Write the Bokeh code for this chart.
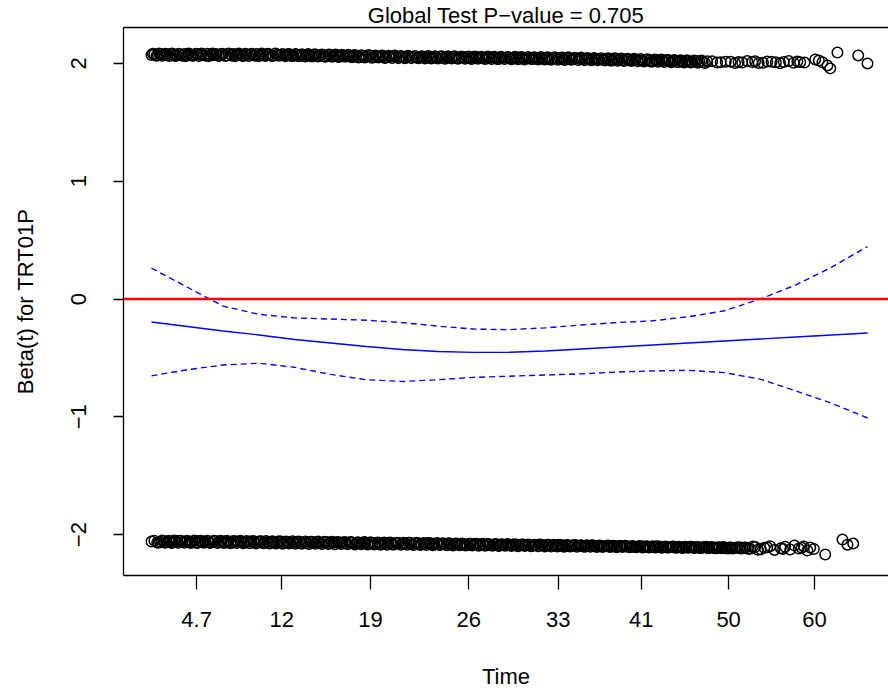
from bokeh.plotting import figure
from bokeh.models import Range1d, LinearAxis, FixedTicker, Span
from bokeh.embed import file_html
from bokeh.resources import INLINE

# ---------------- data (x in transformed-time units 0..100) ----------------
title_text = "Global Test P\u2212value = 0.705"
x_label = "Time"
y_label = "Beta(t) for TRT01P"

tick_pos = [6.3, 18.2, 30.6, 44.3, 56.8, 68.4, 80.6, 92.6]
tick_lab = ["4.7", "12", "19", "26", "33", "41", "50", "60"]
y_ticks = [-2, -1, 0, 1, 2]
y_tick_lab = ["\u22122", "\u22121", "0", "1", "2"]

upper_t = [
    0.0, 0.4, 0.9, 1.3, 1.8, 2.2, 2.7, 3.1, 3.5, 4.0,
    4.6, 5.0, 5.5, 5.9, 6.4, 6.8, 7.3, 7.8, 8.2, 8.7,
    9.1, 9.6, 10.0, 10.5, 11.1, 11.5, 12.0, 12.4, 12.9, 13.3,
    13.8, 14.3, 14.7, 15.2, 15.6, 16.1, 16.5, 17.0, 17.6, 18.0,
    18.5, 18.9, 19.4, 19.8, 20.3, 20.8, 21.2, 21.7, 22.1, 22.6,
    23.0, 23.5, 24.1, 24.5, 25.0, 25.4, 25.9, 26.3, 26.8, 27.3,
    27.7, 28.2, 28.6, 29.1, 29.5, 30.0, 30.6, 31.0, 31.5, 31.9,
    32.4, 32.8, 33.3, 33.8, 34.2, 34.7, 35.1, 35.6, 36.0, 36.5,
    37.1, 37.5, 38.0, 38.4, 38.9, 39.3, 39.8, 40.3, 40.7, 41.2,
    41.6, 42.1, 42.5, 43.0, 43.6, 44.0, 44.5, 44.9, 45.4, 45.8,
    46.3, 46.8, 47.2, 47.7, 48.1, 48.6, 49.0, 49.5, 50.1, 50.5,
    51.0, 51.4, 51.9, 52.3, 52.8, 53.3, 53.7, 54.2, 54.6, 55.1,
    55.5, 56.0, 56.6, 57.0, 57.5, 57.9, 58.4, 58.8, 59.3, 59.8,
    60.2, 60.7, 61.1, 61.6, 62.0, 62.5, 63.1, 63.5, 64.0, 64.4,
    64.9, 65.3, 65.8, 66.3, 66.7, 67.2, 67.6, 68.1, 68.5, 69.0,
    69.6, 70.0, 70.5, 70.9, 71.4, 71.8, 72.3, 72.8, 73.2, 73.7,
    74.1, 74.6, 75.0, 75.5, 76.1, 76.5, 77.0, 77.6, 79.5, 80.9,
    82.5, 83.2, 83.9, 84.8, 86.0, 87.2, 88.3, 89.0, 89.7, 90.6,
    92.7, 93.2, 93.7, 94.4, 94.8, 95.8, 98.7, 100.0,
]
upper_beta = [
    2.072, 2.078, 2.069, 2.081, 2.074, 2.070, 2.079, 2.073, 2.068, 2.077,
    2.080, 2.071, 2.076, 2.067, 2.079, 2.074, 2.070, 2.082, 2.073, 2.069,
    2.077, 2.072, 2.080, 2.068, 2.075, 2.079, 2.071, 2.076, 2.066, 2.078,
    2.073, 2.069, 2.079, 2.074, 2.070, 2.077, 2.072, 2.066, 2.075, 2.071,
    2.068, 2.076, 2.072, 2.065, 2.074, 2.069, 2.063, 2.071, 2.067, 2.072,
    2.064, 2.069, 2.061, 2.067, 2.071, 2.062, 2.066, 2.059, 2.068, 2.063,
    2.058, 2.066, 2.061, 2.055, 2.064, 2.059, 2.063, 2.054, 2.060, 2.057,
    2.062, 2.053, 2.058, 2.061, 2.052, 2.059, 2.055, 2.050, 2.058, 2.054,
    2.049, 2.057, 2.052, 2.056, 2.048, 2.054, 2.051, 2.057, 2.047, 2.053,
    2.050, 2.055, 2.046, 2.052, 2.049, 2.054, 2.045, 2.051, 2.048, 2.053,
    2.044, 2.050, 2.047, 2.052, 2.043, 2.049, 2.046, 2.051, 2.042, 2.048,
    2.045, 2.050, 2.041, 2.047, 2.044, 2.049, 2.040, 2.046, 2.043, 2.048,
    2.039, 2.045, 2.042, 2.047, 2.038, 2.044, 2.041, 2.036, 2.043, 2.039,
    2.035, 2.042, 2.038, 2.033, 2.040, 2.036, 2.031, 2.039, 2.034, 2.030,
    2.037, 2.032, 2.028, 2.035, 2.030, 2.026, 2.033, 2.028, 2.024, 2.031,
    2.026, 2.022, 2.029, 2.024, 2.020, 2.027, 2.022, 2.018, 2.025, 2.020,
    2.016, 2.023, 2.018, 2.014, 2.021, 2.016, 2.012, 2.019, 2.010, 2.015,
    2.008, 2.020, 2.012, 2.004, 2.017, 2.009, 2.013, 2.021, 2.006, 2.011,
    2.034, 2.025, 2.010, 1.983, 1.958, 2.093, 2.068, 2.000,
]

upper_t2 = [
    0.2, 0.7, 1.1, 1.5, 2.0, 2.5, 2.9, 3.3, 3.8, 4.3,
    4.8, 5.2, 5.7, 6.2, 6.6, 7.0, 7.6, 8.0, 8.5, 8.9,
    9.4, 9.8, 10.3, 10.8, 11.3, 11.7, 12.2, 12.7, 13.1, 13.6,
    14.0, 14.5, 15.0, 15.4, 15.9, 16.3, 16.8, 17.3, 17.8, 18.3,
    18.7, 19.2, 19.6, 20.1, 20.5, 21.0, 21.5, 21.9, 22.4, 22.8,
    23.3, 23.8, 24.3, 24.8, 25.2, 25.7, 26.1, 26.6, 27.0, 27.5,
    28.0, 28.4, 28.9, 29.3, 29.8, 30.3, 30.8, 31.3, 31.7, 32.2,
    32.6, 33.1, 33.6, 34.0, 34.5, 34.9, 35.4, 35.8, 36.3, 36.8,
    37.3, 37.8, 38.2, 38.7, 39.1, 39.6, 40.0, 40.5, 41.0, 41.4,
    41.9, 42.3, 42.8, 43.3, 43.8, 44.3, 44.7, 45.2, 45.6, 46.1,
    46.6, 47.0, 47.5, 47.9, 48.4, 48.8, 49.3, 49.8, 50.3, 50.8,
    51.2, 51.7, 52.1, 52.6, 53.1, 53.5, 54.0, 54.4, 54.9, 55.3,
    55.8, 56.3, 56.8, 57.3, 57.7, 58.2, 58.6, 59.1, 59.6, 60.0,
    60.5, 60.9, 61.4, 61.8, 62.3, 62.8, 63.3, 63.8, 64.2, 64.7,
    65.1, 65.6, 66.0, 66.5, 67.0, 67.4, 67.9, 68.3, 68.8, 69.3,
    69.8, 70.3, 70.7, 71.2, 71.6, 72.1, 72.6, 73.0, 73.5, 73.9,
    74.4, 74.8, 75.3, 75.8, 76.3, 76.8, 77.3,
    78.3, 79.0, 80.2, 81.5, 82.0, 84.3, 85.4, 86.6, 87.8, 90.2, 91.2,
]
upper_beta2 = [
    2.083, 2.066, 2.084, 2.065, 2.082, 2.063, 2.085, 2.064, 2.083, 2.066,
    2.062, 2.084, 2.065, 2.083, 2.063, 2.085, 2.066, 2.062, 2.084, 2.081,
    2.064, 2.083, 2.063, 2.084, 2.066, 2.062, 2.085, 2.064, 2.082, 2.063,
    2.083, 2.065, 2.062, 2.084, 2.064, 2.082, 2.063, 2.084, 2.065, 2.081,
    2.062, 2.080, 2.061, 2.079, 2.060, 2.078, 2.059, 2.079, 2.058, 2.077,
    2.058, 2.076, 2.057, 2.075, 2.056, 2.076, 2.055, 2.074, 2.056, 2.073,
    2.052, 2.072, 2.051, 2.070, 2.050, 2.071, 2.049, 2.068, 2.050, 2.067,
    2.047, 2.066, 2.046, 2.067, 2.045, 2.064, 2.044, 2.065, 2.045, 2.063,
    2.043, 2.062, 2.042, 2.063, 2.041, 2.061, 2.042, 2.060, 2.040, 2.061,
    2.041, 2.060, 2.039, 2.059, 2.040, 2.058, 2.038, 2.059, 2.039, 2.057,
    2.037, 2.058, 2.038, 2.056, 2.036, 2.057, 2.037, 2.055, 2.035, 2.056,
    2.036, 2.054, 2.034, 2.055, 2.035, 2.053, 2.033, 2.054, 2.034, 2.052,
    2.032, 2.053, 2.031, 2.051, 2.030, 2.052, 2.031, 2.049, 2.029, 2.050,
    2.028, 2.047, 2.027, 2.046, 2.026, 2.045, 2.024, 2.044, 2.023, 2.043,
    2.022, 2.041, 2.021, 2.040, 2.020, 2.039, 2.018, 2.037, 2.017, 2.036,
    2.015, 2.034, 2.014, 2.033, 2.012, 2.031, 2.011, 2.030, 2.010, 2.028,
    2.008, 2.027, 2.007, 2.025, 2.006, 2.024, 2.004,
    2.018, 2.008, 2.015, 2.003, 2.012, 2.019, 2.006, 2.014, 2.001, 2.016, 2.007,
]

lower_t = [
    0.0, 0.8, 1.2, 1.7, 2.1, 2.6, 3.0, 3.4, 3.9, 4.3,
    4.8, 5.3, 5.7, 6.2, 6.6, 7.1, 7.5, 8.0, 8.5, 8.9,
    9.4, 9.8, 10.3, 10.7, 11.2, 11.7, 12.1, 12.6, 13.0, 13.5,
    13.9, 14.4, 14.9, 15.3, 15.8, 16.2, 16.7, 17.1, 17.6, 18.1,
    18.5, 19.0, 19.4, 19.9, 20.3, 20.8, 21.3, 21.7, 22.2, 22.6,
    23.1, 23.5, 24.0, 24.5, 24.9, 25.4, 25.8, 26.3, 26.7, 27.2,
    27.7, 28.1, 28.6, 29.0, 29.5, 29.9, 30.4, 30.9, 31.3, 31.8,
    32.2, 32.7, 33.1, 33.6, 34.1, 34.5, 35.0, 35.4, 35.9, 36.3,
    36.8, 37.3, 37.7, 38.2, 38.6, 39.1, 39.5, 40.0, 40.5, 40.9,
    41.4, 41.8, 42.3, 42.7, 43.2, 43.7, 44.1, 44.6, 45.0, 45.5,
    45.9, 46.4, 46.9, 47.3, 47.8, 48.2, 48.7, 49.1, 49.6, 50.1,
    50.5, 51.0, 51.4, 51.9, 52.3, 52.8, 53.3, 53.7, 54.2, 54.6,
    55.1, 55.5, 56.0, 56.5, 56.9, 57.4, 57.8, 58.3, 58.7, 59.2,
    59.7, 60.1, 60.6, 61.0, 61.5, 61.9, 62.4, 62.9, 63.3, 63.8,
    64.2, 64.7, 65.1, 65.6, 66.1, 66.5, 67.0, 67.4, 67.9, 68.3,
    68.8, 69.3, 69.7, 70.2, 70.6, 71.1, 71.5, 72.0, 72.5, 72.9,
    73.4, 73.8, 74.3, 74.7, 75.2, 75.7, 76.1, 76.6, 77.0, 77.5,
    77.9, 78.4, 78.9, 79.3, 79.8, 80.2, 80.7, 81.1, 81.6, 82.1,
    82.5, 83.0, 83.6, 84.3, 85.1, 85.6, 86.4, 87.0, 87.9, 88.5,
    89.2, 89.8, 90.4, 91.1, 91.6, 92.0, 92.5, 94.1, 96.5, 97.2,
    98.0,
]
lower_beta = [
    -2.058, -2.066, -2.060, -2.054, -2.063, -2.057, -2.065, -2.059, -2.053, -2.062,
    -2.056, -2.064, -2.059, -2.067, -2.055, -2.061, -2.058, -2.066, -2.060, -2.054,
    -2.063, -2.057, -2.065, -2.060, -2.068, -2.056, -2.062, -2.059, -2.067, -2.061,
    -2.058, -2.066, -2.062, -2.057, -2.069, -2.063, -2.060, -2.068, -2.064, -2.059,
    -2.067, -2.062, -2.070, -2.065, -2.060, -2.068, -2.064, -2.072, -2.061, -2.067,
    -2.063, -2.071, -2.066, -2.062, -2.073, -2.068, -2.064, -2.072, -2.067, -2.075,
    -2.065, -2.070, -2.076, -2.068, -2.073, -2.066, -2.078, -2.071, -2.075, -2.069,
    -2.077, -2.072, -2.068, -2.080, -2.074, -2.071, -2.079, -2.075, -2.070, -2.082,
    -2.076, -2.073, -2.081, -2.077, -2.072, -2.084, -2.078, -2.074, -2.083, -2.079,
    -2.075, -2.086, -2.080, -2.077, -2.085, -2.081, -2.088, -2.078, -2.084, -2.080,
    -2.087, -2.083, -2.079, -2.089, -2.085, -2.082, -2.091, -2.086, -2.081, -2.088,
    -2.084, -2.092, -2.087, -2.083, -2.090, -2.086, -2.094, -2.088, -2.084, -2.093,
    -2.089, -2.085, -2.096, -2.091, -2.087, -2.095, -2.090, -2.098, -2.092, -2.088,
    -2.097, -2.093, -2.100, -2.095, -2.091, -2.099, -2.094, -2.102, -2.096, -2.092,
    -2.101, -2.097, -2.104, -2.099, -2.095, -2.103, -2.098, -2.106, -2.100, -2.096,
    -2.105, -2.101, -2.108, -2.103, -2.099, -2.107, -2.102, -2.110, -2.104, -2.100,
    -2.109, -2.105, -2.112, -2.107, -2.103, -2.111, -2.106, -2.114, -2.108, -2.104,
    -2.113, -2.108, -2.116, -2.110, -2.106, -2.115, -2.109, -2.118, -2.111, -2.107,
    -2.116, -2.110, -2.119, -2.105, -2.125, -2.112, -2.098, -2.130, -2.115, -2.103,
    -2.127, -2.092, -2.118, -2.100, -2.135, -2.110, -2.122, -2.169, -2.042, -2.085,
    -2.076,
]

lower_t2 = [
    0.4, 1.0, 1.5, 1.9, 2.4, 2.8, 3.2, 3.7, 4.1, 4.6,
    5.0, 5.5, 6.0, 6.4, 6.9, 7.3, 7.8, 8.2, 8.7, 9.2,
    9.6, 10.1, 10.5, 11.0, 11.4, 11.9, 12.4, 12.8, 13.3, 13.7,
    14.2, 14.6, 15.1, 15.6, 16.0, 16.5, 16.9, 17.4, 17.8, 18.3,
    18.8, 19.2, 19.7, 20.1, 20.6, 21.0, 21.5, 22.0, 22.4, 22.9,
    23.3, 23.8, 24.2, 24.7, 25.2, 25.6, 26.1, 26.5, 27.0, 27.4,
    27.9, 28.4, 28.8, 29.3, 29.7, 30.2, 30.6, 31.1, 31.6, 32.0,
    32.5, 32.9, 33.4, 33.8, 34.3, 34.8, 35.2, 35.7, 36.1, 36.6,
    37.0, 37.5, 38.0, 38.4, 38.9, 39.3, 39.8, 40.2, 40.7, 41.2,
    41.6, 42.1, 42.5, 43.0, 43.4, 43.9, 44.4, 44.8, 45.3, 45.7,
    46.2, 46.6, 47.1, 47.6, 48.0, 48.5, 48.9, 49.4, 49.8, 50.3,
    50.8, 51.2, 51.7, 52.1, 52.6, 53.0, 53.5, 54.0, 54.4, 54.9,
    55.3, 55.8, 56.2, 56.7, 57.2, 57.6, 58.1, 58.5, 59.0, 59.4,
    59.9, 60.4, 60.8, 61.3, 61.7, 62.2, 62.6, 63.1, 63.6, 64.0,
    64.5, 64.9, 65.4, 65.8, 66.3, 66.8, 67.2, 67.7, 68.1, 68.6,
    69.0, 69.5, 70.0, 70.4, 70.9, 71.3, 71.8, 72.2, 72.7, 73.2,
    73.6, 74.1, 74.5, 75.0, 75.4, 75.9, 76.4, 76.8, 77.3, 77.7,
    78.2, 78.6, 79.1, 79.6, 80.0, 80.5, 80.9, 81.4, 81.8, 82.3,
    82.8, 83.3,
    84.0, 84.7, 86.0, 88.2, 90.8,
]
lower_beta2 = [
    -2.051, -2.070, -2.050, -2.069, -2.052, -2.071, -2.050, -2.070, -2.051, -2.069,
    -2.052, -2.071, -2.050, -2.072, -2.053, -2.070, -2.051, -2.071, -2.052, -2.072,
    -2.053, -2.072, -2.052, -2.073, -2.054, -2.071, -2.053, -2.074, -2.055, -2.073,
    -2.054, -2.075, -2.056, -2.074, -2.055, -2.076, -2.057, -2.075, -2.056, -2.077,
    -2.058, -2.076, -2.057, -2.078, -2.059, -2.077, -2.058, -2.079, -2.060, -2.078,
    -2.059, -2.080, -2.061, -2.079, -2.060, -2.081, -2.062, -2.080, -2.063, -2.082,
    -2.062, -2.083, -2.064, -2.082, -2.063, -2.084, -2.065, -2.083, -2.066, -2.085,
    -2.066, -2.086, -2.067, -2.085, -2.068, -2.087, -2.069, -2.086, -2.070, -2.088,
    -2.070, -2.089, -2.071, -2.088, -2.072, -2.090, -2.073, -2.089, -2.074, -2.091,
    -2.074, -2.092, -2.075, -2.091, -2.076, -2.093, -2.077, -2.092, -2.078, -2.094,
    -2.078, -2.095, -2.079, -2.094, -2.080, -2.096, -2.081, -2.095, -2.082, -2.097,
    -2.082, -2.098, -2.083, -2.097, -2.084, -2.099, -2.085, -2.098, -2.086, -2.100,
    -2.086, -2.101, -2.087, -2.100, -2.088, -2.102, -2.089, -2.101, -2.090, -2.103,
    -2.090, -2.104, -2.091, -2.103, -2.092, -2.105, -2.093, -2.104, -2.094, -2.106,
    -2.094, -2.107, -2.095, -2.106, -2.096, -2.108, -2.097, -2.107, -2.098, -2.109,
    -2.098, -2.110, -2.099, -2.109, -2.100, -2.111, -2.101, -2.110, -2.102, -2.112,
    -2.102, -2.113, -2.103, -2.112, -2.104, -2.114, -2.105, -2.113, -2.106, -2.115,
    -2.106, -2.116, -2.107, -2.115, -2.108, -2.117, -2.109, -2.116, -2.110, -2.118,
    -2.110, -2.119,
    -2.100, -2.128, -2.108, -2.122, -2.112,
]

curve_t = [0, 5, 10, 15, 20, 25, 30, 35, 40, 45, 50,
           55, 60, 65, 70, 75, 80, 85, 90, 95, 100]
beta_fit = [-0.195, -0.233, -0.271, -0.305, -0.343, -0.373, -0.403, -0.428,
            -0.445, -0.453, -0.452, -0.441, -0.424, -0.407, -0.390, -0.373,
            -0.356, -0.339, -0.322, -0.305, -0.288]
beta_upper = [0.263, 0.100, -0.060, -0.130, -0.160, -0.170, -0.180, -0.200,
              -0.230, -0.255, -0.260, -0.245, -0.220, -0.200, -0.185, -0.150,
              -0.100, 0.000, 0.120, 0.270, 0.445]
beta_lower = [-0.652, -0.600, -0.560, -0.545, -0.580, -0.640, -0.685, -0.700,
              -0.685, -0.665, -0.655, -0.645, -0.635, -0.620, -0.610, -0.605,
              -0.625, -0.680, -0.780, -0.885, -1.010]

# ---------------- figure ----------------
FONT = "Liberation Sans"

p = figure(width=888, height=691, output_backend="svg", toolbar_location=None,
           x_range=Range1d(-3.91, 102.93), y_range=Range1d(-2.347, 2.305),
           title=title_text)
p.min_border_left = 123
p.min_border_right = 0
p.min_border_top = 27
p.min_border_bottom = 115
p.outline_line_color = None
p.grid.visible = False
p.background_fill_color = "white"
p.border_fill_color = "white"

p.title.align = "center"
p.title.text_font = FONT
p.title.text_font_size = "22px"
p.title.text_font_style = "normal"
p.title.text_color = "black"
p.title.standoff = 0

xa = p.xaxis[0]
xa.ticker = FixedTicker(ticks=tick_pos)
xa.major_label_overrides = {t: l for t, l in zip(tick_pos, tick_lab)}
xa.major_tick_out = 14
xa.major_tick_in = 0
xa.minor_tick_line_color = None
xa.axis_line_width = 1.3
xa.major_tick_line_width = 1.3
xa.major_label_text_font = FONT
xa.major_label_text_font_size = "22px"
xa.major_label_text_color = "black"
xa.major_label_standoff = 22
xa.axis_label = x_label
xa.axis_label_text_font = FONT
xa.axis_label_text_font_size = "22px"
xa.axis_label_text_font_style = "normal"
xa.axis_label_text_color = "black"
xa.axis_label_standoff = 34

ya = p.yaxis[0]
ya.ticker = FixedTicker(ticks=y_ticks)
ya.major_label_overrides = {t: l for t, l in zip(y_ticks, y_tick_lab)}
ya.major_label_orientation = "vertical"
ya.major_tick_out = 10
ya.major_tick_in = 0
ya.minor_tick_line_color = None
ya.axis_line_width = 1.3
ya.major_tick_line_width = 1.3
ya.major_label_text_font = FONT
ya.major_label_text_font_size = "22px"
ya.major_label_text_color = "black"
ya.major_label_standoff = 27
ya.axis_label = y_label
ya.axis_label_text_font = FONT
ya.axis_label_text_font_size = "22px"
ya.axis_label_text_font_style = "normal"
ya.axis_label_text_color = "black"
ya.axis_label_standoff = 31

top = LinearAxis(ticker=FixedTicker(ticks=[]), major_label_text_font_size="0px",
                 major_tick_line_color=None, minor_tick_line_color=None,
                 major_label_standoff=0, axis_line_width=1.3)
p.add_layout(top, "above")

# residual points
for xs, ys in ((upper_t, upper_beta), (upper_t2, upper_beta2),
               (lower_t, lower_beta), (lower_t2, lower_beta2)):
    p.scatter(xs, ys, marker="circle", size=10.5, fill_color=None,
              line_color="black", line_width=1.5)

# smooth fit and confidence band
p.line(curve_t, beta_fit, line_color="blue", line_width=1.4)
p.line(curve_t, beta_upper, line_color="blue", line_width=1.4, line_dash="6 4")
p.line(curve_t, beta_lower, line_color="blue", line_width=1.4, line_dash="6 4")

p.add_layout(Span(location=0, dimension="width", line_color="red", line_width=2.6))

open("out.html", "w").write(file_html(p, INLINE))
